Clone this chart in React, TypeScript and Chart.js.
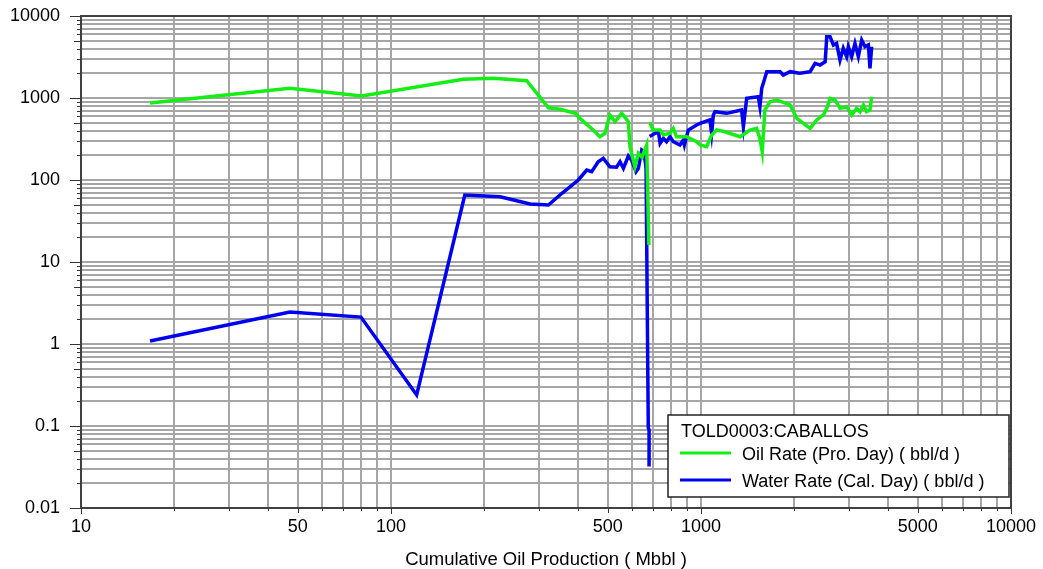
import { useEffect, useRef } from 'react';
import { Chart, registerables } from 'chart.js';

Chart.register(...registerables);

// ---- Labels ----
const wellName = 'TOLD0003:CABALLOS';
const oilLabel = 'Oil Rate (Pro. Day) ( bbl/d )';
const waterLabel = 'Water Rate (Cal. Day) ( bbl/d )';
const xAxisTitle = 'Cumulative Oil Production ( Mbbl )';

// Labelled ticks on each log axis
const xTickLabels = ['10', '50', '100', '500', '1000', '5000', '10000'];
const yTickLabels = ['0.01', '0.1', '1', '10', '100', '1000', '10000'];

// ---- Oil rate vs cumulative oil (null = break in the record) ----
const oilCum = [
  16.7, 47.2, 80.5, 171, 214, 274, 322, 351, 393, 412, 449, 472, 490, 508, 528, 555, 583, 590, 612, 628,
  645, 668, 679, 681,
  684, 701, 738, 756, 794, 814, 834, 898, 968, 993, 1043, 1082, 1124, 1195, 1336, 1439, 1511, 1549, 1576,
  1607, 1670, 1755, 1938, 2037, 2249, 2362, 2482, 2545, 2608, 2706, 2808, 2950, 3062, 3178, 3258, 3340,
  3422, 3508, 3553,
];
const oilRate = [
  869, 1313, 1058, 1690, 1738, 1626, 760, 728, 650, 540, 407, 337, 371, 621, 514, 650, 514, 255, 145, 212,
  190, 267, 16.1, null,
  500, 407, 407, 354, 371, 426, 337, 337, 293, 267, 255, 354, 407, 388, 337, 407, 426, 322, 221,
  714, 902, 946, 822, 565, 426, 540, 621, 748, 990, 946, 748, 783, 621, 748, 681, 822,
  681, 714, 1038,
];

// ---- Water rate vs cumulative oil (null = break in the record) ----
const waterCum = [
  16.7, 47.2, 80, 121, 173, 225, 281, 322, 356, 402, 428, 444, 466, 484, 508, 534, 548, 562, 583, 597,
  617, 628, 644, 655, 665, 676, 680, 680, 681,
  683, 711, 729, 738, 756, 774, 794, 814, 855, 877, 884, 910, 968, 993, 1069, 1082, 1096, 1110, 1210,
  1352, 1370, 1404, 1530, 1549, 1570, 1630, 1799, 1843, 1938, 2083, 2249, 2334, 2422, 2515, 2545, 2608,
  2673, 2738, 2808, 2877, 2950, 2987, 3062, 3138, 3218, 3299, 3381, 3467, 3508, 3553,
];
const waterRate = [
  1.09, 2.45, 2.13, 0.239, 65.6, 62.5, 50.9, 49.5, 68.9, 100, 132, 126, 167, 184, 145, 143, 167, 139, 196, 175,
  126, 139, 232, 221, 139, 0.095, 0.09, 0.032, null,
  340, 371, 388, 280, 322, 293, 337, 293, 267, 307, 267, 407, 469, 491, 540, 371, 621, 681, 650,
  714, 447, 990, 1038, 783, 1313, 2094, 2094, 1905, 2094, 2000, 2094, 2650, 2524, 2774, 5594, 5594,
  4430, 4640, 2906, 4037, 3191, 4227, 3191, 4640, 3191, 5094, 4227, 4430, 2302, 4227,
];

const OIL_COLOR = '#14ee14';
const WATER_COLOR = '#0000f0';
const GRID_COLOR = '#a6a6a6';
const FONT = '"Liberation Sans", Arial, sans-serif';

// Log-decade grid values (1..9 x 10^n) between two powers of ten
function decadeTicks(lo: number, hi: number) {
  const out: { value: number }[] = [];
  for (let e = lo; e < hi; e++) {
    for (let m = 1; m <= 9; m++) out.push({ value: m * Math.pow(10, e) });
  }
  out.push({ value: Math.pow(10, hi) });
  return out;
}

function mantissa(v: number) {
  const e = Math.floor(Math.log10(v) + 1e-9);
  return Math.round(v / Math.pow(10, e));
}

function labelFor(v: number, labels: string[]) {
  const hit = labels.find((l) => Math.abs(Number(l) - v) / v < 1e-6);
  return hit ?? '';
}

const framePlugin = {
  id: 'frameAndLegend',
  afterDraw(chart: any) {
    const { ctx, chartArea: a, scales } = chart;
    ctx.save();

    // tick marks outside the plot area
    ctx.strokeStyle = '#333';
    ctx.lineWidth = 1;
    scales.y.ticks.forEach((t: any) => {
      const p = Math.round(scales.y.getPixelForValue(t.value)) + 0.5;
      const m = mantissa(t.value);
      const len = m === 1 ? 11 : m === 5 ? 7 : 4;
      ctx.beginPath();
      ctx.moveTo(a.left - len, p);
      ctx.lineTo(a.left, p);
      ctx.stroke();
    });
    scales.x.ticks.forEach((t: any) => {
      const p = Math.round(scales.x.getPixelForValue(t.value)) + 0.5;
      const m = mantissa(t.value);
      const len = m === 1 ? 6 : m === 5 ? 5 : 3;
      ctx.beginPath();
      ctx.moveTo(p, a.bottom);
      ctx.lineTo(p, a.bottom + len);
      ctx.stroke();
    });

    // plot frame
    ctx.strokeStyle = '#404040';
    ctx.lineWidth = 2;
    ctx.strokeRect(a.left, a.top, a.right - a.left, a.bottom - a.top);

    // legend box
    const bw = 341;
    const bh = 82;
    const bx = a.right - 2 - bw;
    const by = a.bottom - 11 - bh;
    ctx.fillStyle = '#fff';
    ctx.fillRect(bx, by, bw, bh);
    ctx.strokeStyle = '#222';
    ctx.lineWidth = 1.5;
    ctx.strokeRect(bx, by, bw, bh);

    ctx.fillStyle = '#000';
    ctx.font = `18px ${FONT}`;
    ctx.textBaseline = 'alphabetic';
    ctx.textAlign = 'left';
    ctx.fillText(wellName, bx + 13, by + 22);

    const rows = [
      { label: oilLabel, color: OIL_COLOR, base: by + 45, line: by + 38 },
      { label: waterLabel, color: WATER_COLOR, base: by + 72, line: by + 65 },
    ];
    rows.forEach((r) => {
      ctx.strokeStyle = r.color;
      ctx.lineWidth = 3;
      ctx.beginPath();
      ctx.moveTo(bx + 12, r.line);
      ctx.lineTo(bx + 63, r.line);
      ctx.stroke();
      ctx.fillStyle = '#000';
      ctx.fillText(r.label, bx + 74, r.base);
    });

    ctx.restore();
  },
};

export default function App() {
  const canvasRef = useRef<HTMLCanvasElement | null>(null);

  useEffect(() => {
    const canvas = canvasRef.current;
    if (!canvas) return;

    const oilPoints = oilCum.map((x, i) => ({ x, y: oilRate[i] }));
    const waterPoints = waterCum.map((x, i) => ({ x, y: waterRate[i] }));

    const chart = new Chart(canvas, {
      type: 'line',
      data: {
        datasets: [
          {
            label: oilLabel,
            data: oilPoints as any,
            borderColor: OIL_COLOR,
            borderWidth: 3.5,
            pointRadius: 0,
            fill: false,
            tension: 0,
            spanGaps: false,
          },
          {
            label: waterLabel,
            data: waterPoints as any,
            borderColor: WATER_COLOR,
            borderWidth: 3.5,
            pointRadius: 0,
            fill: false,
            tension: 0,
            spanGaps: false,
          },
        ],
      },
      options: {
        responsive: false,
        animation: false,
        devicePixelRatio: 1,
        layout: { padding: { left: 0, top: 16, right: 32, bottom: 0 } },
        plugins: {
          legend: { display: false },
          tooltip: { enabled: false },
        },
        scales: {
          x: {
            type: 'logarithmic',
            min: 10,
            max: 10000,
            afterBuildTicks: (s: any) => {
              s.ticks = decadeTicks(1, 4);
            },
            afterFit: (s: any) => {
              s.height = 61;
              s.paddingLeft = 0;
              s.paddingRight = 0;
            },
            grid: { color: GRID_COLOR, lineWidth: 2, drawTicks: false },
            border: { display: false },
            ticks: {
              autoSkip: false,
              maxRotation: 0,
              padding: 8,
              color: '#000',
              font: { family: FONT, size: 18 },
              callback: (v: any) => labelFor(Number(v), xTickLabels),
            },
            title: {
              display: true,
              text: xAxisTitle,
              color: '#000',
              font: { family: FONT, size: 18.5, lineHeight: 1 },
              padding: { top: 0, bottom: 0 },
            },
          },
          y: {
            type: 'logarithmic',
            min: 0.01,
            max: 10000,
            afterBuildTicks: (s: any) => {
              s.ticks = decadeTicks(-2, 4);
            },
            afterFit: (s: any) => {
              s.width = 81;
              s.paddingTop = 0;
              s.paddingBottom = 0;
            },
            grid: { color: GRID_COLOR, lineWidth: 2, drawTicks: false },
            border: { display: false },
            ticks: {
              autoSkip: false,
              padding: 21,
              color: '#000',
              font: { family: FONT, size: 18 },
              callback: (v: any) => labelFor(Number(v), yTickLabels),
            },
          },
        },
      },
      plugins: [framePlugin],
    });

    return () => chart.destroy();
  }, []);

  return (
    <div style={{ position: 'fixed', left: 0, top: 0, width: 1043, height: 569, background: '#fff' }}>
      <canvas ref={canvasRef} width={1043} height={569} />
    </div>
  );
}
